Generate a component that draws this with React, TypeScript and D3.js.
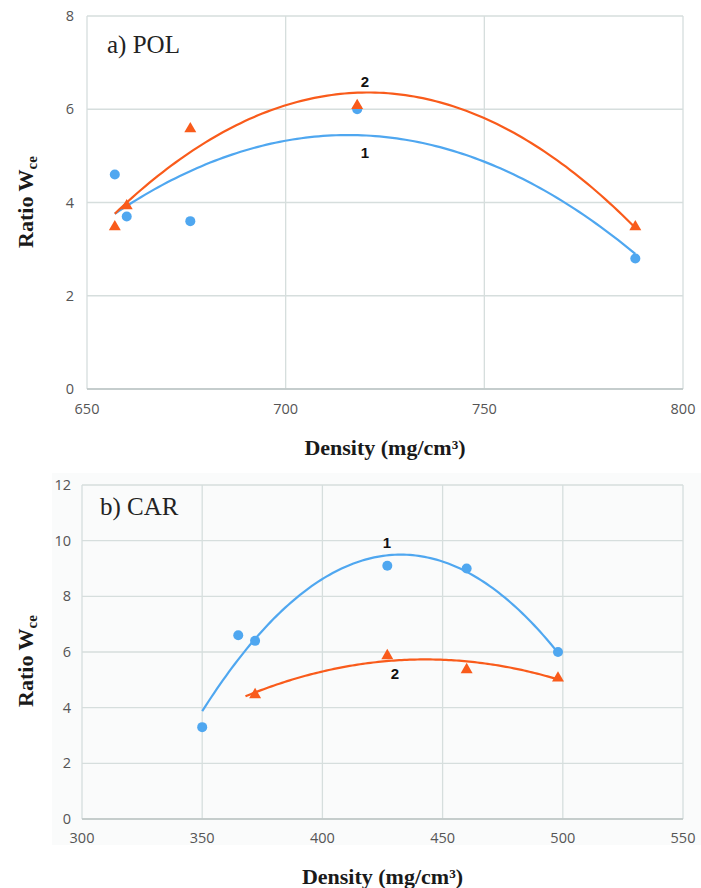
import React from 'react';
import * as d3 from 'd3';

// ---- data ----
const polDensity1 = [657, 660, 676, 718, 788];
const polRatio1 = [4.6, 3.7, 3.6, 6.0, 2.8];
const polDensity2 = [657, 660, 676, 718, 788];
const polRatio2 = [3.5, 3.95, 5.6, 6.1, 3.5];
const polTrendRange1 = [657, 788];
const polTrendRange2 = [657, 788];

const carDensity1 = [350, 365, 372, 427, 460, 498];
const carRatio1 = [3.3, 6.6, 6.4, 9.1, 9.0, 6.0];
const carDensity2 = [372, 427, 460, 498];
const carRatio2 = [4.5, 5.9, 5.4, 5.1];
const carTrendRange1 = [350, 498];
const carTrendRange2 = [368, 498];

const polXTicks = [650, 700, 750, 800];
const polYTicks = [0, 2, 4, 6, 8];
const carXTicks = [300, 350, 400, 450, 500, 550];
const carYTicks = [0, 2, 4, 6, 8, 10, 12];

const BLUE = '#4fa7f0';
const ORANGE = '#f95b1b';
const GRID = '#d6dedd';

// least-squares quadratic trendline
function quadFit(xs: number[], ys: number[]) {
  const mx = d3.mean(xs) as number;
  const u = xs.map((x) => x - mx);
  const S = [0, 0, 0, 0, 0];
  const T = [0, 0, 0];
  u.forEach((v, i) => {
    for (let k = 0; k < 5; k++) S[k] += Math.pow(v, k);
    for (let k = 0; k < 3; k++) T[k] += Math.pow(v, k) * ys[i];
  });
  const A = [
    [S[0], S[1], S[2], T[0]],
    [S[1], S[2], S[3], T[1]],
    [S[2], S[3], S[4], T[2]],
  ];
  for (let i = 0; i < 3; i++) {
    let p = i;
    for (let r = i + 1; r < 3; r++) if (Math.abs(A[r][i]) > Math.abs(A[p][i])) p = r;
    [A[i], A[p]] = [A[p], A[i]];
    for (let r = 0; r < 3; r++) {
      if (r === i) continue;
      const f = A[r][i] / A[i][i];
      for (let c = i; c < 4; c++) A[r][c] -= f * A[i][c];
    }
  }
  const a = A[0][3] / A[0][0];
  const b = A[1][3] / A[1][1];
  const c = A[2][3] / A[2][2];
  return (x: number) => a + b * (x - mx) + c * (x - mx) * (x - mx);
}

type Series = { xs: number[]; ys: number[]; range: number[]; color: string; marker: 'circle' | 'triangle' };

function Panel(props: {
  left: number; right: number; top: number; bottom: number;
  xDomain: [number, number]; yDomain: [number, number];
  xTicks: number[]; yTicks: number[];
  series: Series[];
  label: string; labelX: number; labelY: number;
  numLabels: { text: string; x: number; y: number }[];
  yTickX: number; xTickY: number;
  yTitleX: number; yTitleY: number; xTitleY: number;
  bg?: boolean;
}) {
  const x = d3.scaleLinear().domain(props.xDomain).range([props.left, props.right]);
  const y = d3.scaleLinear().domain(props.yDomain).range([props.bottom, props.top]);
  const tri = d3.symbol().type(d3.symbolTriangle).size(62)();
  return (
    <g>
      {props.bg && (
        <rect x={props.left - 30} y={props.top - 12} width={props.right - props.left + 48} height={props.bottom - props.top + 38} fill="#fafbfb" />
      )}
      {props.yTicks.map((t) => (
        <line key={'gy' + t} x1={props.left} x2={props.right} y1={y(t)} y2={y(t)} stroke={GRID} strokeWidth={1.3} />
      ))}
      {props.xTicks.map((t) => (
        <line key={'gx' + t} x1={x(t)} x2={x(t)} y1={props.top} y2={props.bottom} stroke={GRID} strokeWidth={1.3} />
      ))}
      <line x1={props.left} x2={props.right} y1={props.bottom} y2={props.bottom} stroke="#bcc5c5" strokeWidth={1.5} />
      {props.yTicks.map((t) => (
        <text key={'ty' + t} x={props.yTickX} y={y(t)} dy="0.35em" textAnchor="end" fontFamily="'Open Sans', sans-serif" fontSize={14.5} fill="#555">{t}</text>
      ))}
      {props.xTicks.map((t) => (
        <text key={'tx' + t} x={x(t)} y={props.xTickY} textAnchor="middle" fontFamily="'Open Sans', sans-serif" fontSize={14.5} fill="#555">{t}</text>
      ))}
      {props.series.map((s, i) => {
        const f = quadFit(s.xs, s.ys);
        const pts = d3.range(s.range[0], s.range[1] + 0.001, (s.range[1] - s.range[0]) / 120).map((v) => [v, f(v)] as [number, number]);
        const line = d3.line<[number, number]>().x((d) => x(d[0])).y((d) => y(d[1])).curve(d3.curveLinear);
        return <path key={'tr' + i} d={line(pts) || ''} fill="none" stroke={s.color} strokeWidth={2.2} />;
      })}
      {props.series.map((s, i) =>
        s.xs.map((v, j) =>
          s.marker === 'circle' ? (
            <circle key={'m' + i + '-' + j} cx={x(v)} cy={y(s.ys[j])} r={5} fill={s.color} />
          ) : (
            <path key={'m' + i + '-' + j} d={tri || ''} transform={`translate(${x(v)},${y(s.ys[j]) + 1})`} fill={s.color} />
          )
        )
      )}
      {props.numLabels.map((l) => (
        <text key={'n' + l.text} x={l.x} y={l.y} textAnchor="middle" fontFamily="'Liberation Sans', Arial, sans-serif" fontWeight="bold" fontSize={15} fill="#111">{l.text}</text>
      ))}
      <text x={props.labelX} y={props.labelY} fontFamily="'Liberation Serif', 'Times New Roman', serif" fontSize={25} fill="#222">{props.label}</text>
      <text transform={`translate(${props.yTitleX},${props.yTitleY}) rotate(-90)`} textAnchor="middle" fontFamily="'Liberation Serif', 'Times New Roman', serif" fontWeight="bold" fontSize={22} fill="#1a1a1a">
        Ratio W<tspan fontSize={15} dy={4}>ce</tspan>
      </text>
      <text x={(props.left + props.right) / 2} y={props.xTitleY} textAnchor="middle" fontFamily="'Liberation Serif', 'Times New Roman', serif" fontWeight="bold" fontSize={22} fill="#1a1a1a">
        Density (mg/cm³)
      </text>
    </g>
  );
}

export default function App() {
  return (
    <svg width={701} height={888} style={{ position: 'absolute', left: 0, top: 0, background: '#fff' }}>
      <Panel
        left={87} right={683} top={16} bottom={389}
        xDomain={[650, 800]} yDomain={[0, 8]}
        xTicks={polXTicks} yTicks={polYTicks}
        series={[
          { xs: polDensity1, ys: polRatio1, range: polTrendRange1, color: BLUE, marker: 'circle' },
          { xs: polDensity2, ys: polRatio2, range: polTrendRange2, color: ORANGE, marker: 'triangle' },
        ]}
        label="a) POL" labelX={107} labelY={53}
        numLabels={[{ text: '1', x: 365, y: 158 }, { text: '2', x: 365, y: 87 }]}
        yTickX={74} xTickY={414}
        yTitleX={33} yTitleY={202} xTitleY={455}
      />
      <Panel
        left={82} right={683} top={485} bottom={819}
        xDomain={[300, 550]} yDomain={[0, 12]}
        xTicks={carXTicks} yTicks={carYTicks}
        series={[
          { xs: carDensity1, ys: carRatio1, range: carTrendRange1, color: BLUE, marker: 'circle' },
          { xs: carDensity2, ys: carRatio2, range: carTrendRange2, color: ORANGE, marker: 'triangle' },
        ]}
        label="b) CAR" labelX={100} labelY={515}
        numLabels={[{ text: '1', x: 387, y: 548 }, { text: '2', x: 395, y: 679 }]}
        yTickX={71} xTickY={843}
        yTitleX={33} yTitleY={661} xTitleY={884}
        bg
      />
    </svg>
  );
}
